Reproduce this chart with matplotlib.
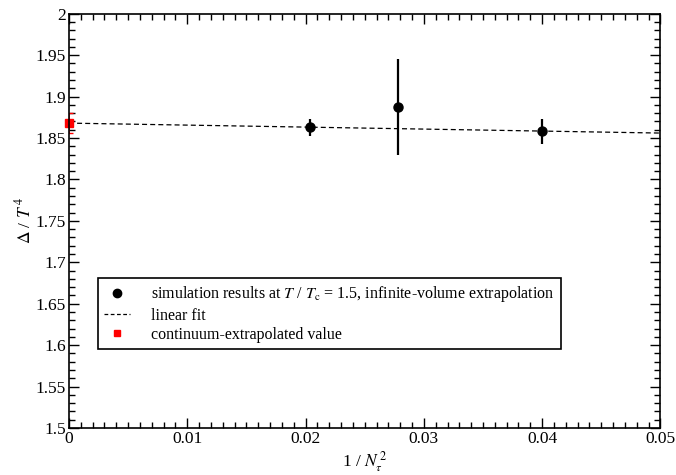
import numpy as np
import matplotlib
matplotlib.use("Agg")
import matplotlib.pyplot as plt
from matplotlib.ticker import MultipleLocator
from matplotlib.lines import Line2D

plt.rcParams['font.family'] = ['Liberation Serif', 'DejaVu Serif']
plt.rcParams['mathtext.fontset'] = 'stix'

# datos
inv_nt2 = [1/49, 1/36, 1/25]
delta = [1.863, 1.888, 1.858]
delta_err = [0.010, 0.058, 0.015]

cont_x = [0.0]
cont_y = [1.868]
cont_err = [0.012]

fit_x = [0.0, 0.05]
fit_y = [1.868, 1.856]

fig, ax = plt.subplots(figsize=(6.76, 4.75), dpi=100)
fig.subplots_adjust(left=0.102, right=0.977, top=0.971, bottom=0.099)

ax.plot(fit_x, fit_y, ls=(0, (4, 2.5)), color='black', lw=0.9)
ax.errorbar(inv_nt2, delta, yerr=delta_err, fmt='o', color='black', ms=6.5,
            elinewidth=1.6, capsize=0)
eb = ax.errorbar(cont_x, cont_y, yerr=cont_err, fmt='s', color='red', ms=6,
                 elinewidth=1.2, capsize=3)
eb.lines[0].set_clip_on(False)

ax.set_xlim(0, 0.05)
ax.set_ylim(1.5, 2.0)
ax.set_xticks([0, 0.01, 0.02, 0.03, 0.04, 0.05])
ax.set_xticklabels(['0', '0.01', '0.02', '0.03', '0.04', '0.05'])
ax.set_yticks(np.arange(1.5, 2.001, 0.05))
ax.set_yticklabels(['1.5', '1.55', '1.6', '1.65', '1.7', '1.75', '1.8', '1.85',
                    '1.9', '1.95', '2'])
ax.xaxis.set_minor_locator(MultipleLocator(0.001))
ax.yaxis.set_minor_locator(MultipleLocator(0.01))
ax.tick_params(which='both', direction='in', top=True, right=True, labelsize=12.5, pad=2)
ax.tick_params(which='major', length=7, width=1)
ax.tick_params(which='minor', length=4, width=1)
for s in ax.spines.values():
    s.set_linewidth(1.2)

ax.set_xlabel(r'1 / $N_{\tau}^{\,2}$', fontsize=12.5, labelpad=2)
ax.set_ylabel(r'$\Delta$ / $T^{\,4}$', fontsize=12.5)
ax.yaxis.set_label_coords(-0.058, 0.5)

handles = [
    Line2D([], [], marker='o', ls='none', color='black', ms=6),
    Line2D([], [], ls=(0, (3, 2)), color='black', lw=0.9),
    Line2D([], [], marker='s', ls='none', color='red', ms=5),
]
labels = [
    r'simulation results at $T$ / $T_{\rm c}$ = 1.5, infinite-volume extrapolation',
    'linear fit',
    'continuum-extrapolated value',
]
leg = ax.legend(handles, labels, loc='lower left',
                bbox_to_anchor=(0.049, 0.19), fontsize=11.5, frameon=True, fancybox=False,
                edgecolor='black', framealpha=1, handlelength=1.6, handletextpad=1.3,
                borderpad=0.4, labelspacing=0.2, borderaxespad=0)
leg.get_frame().set_linewidth(1.2)

plt.savefig('out.png', dpi=100)
